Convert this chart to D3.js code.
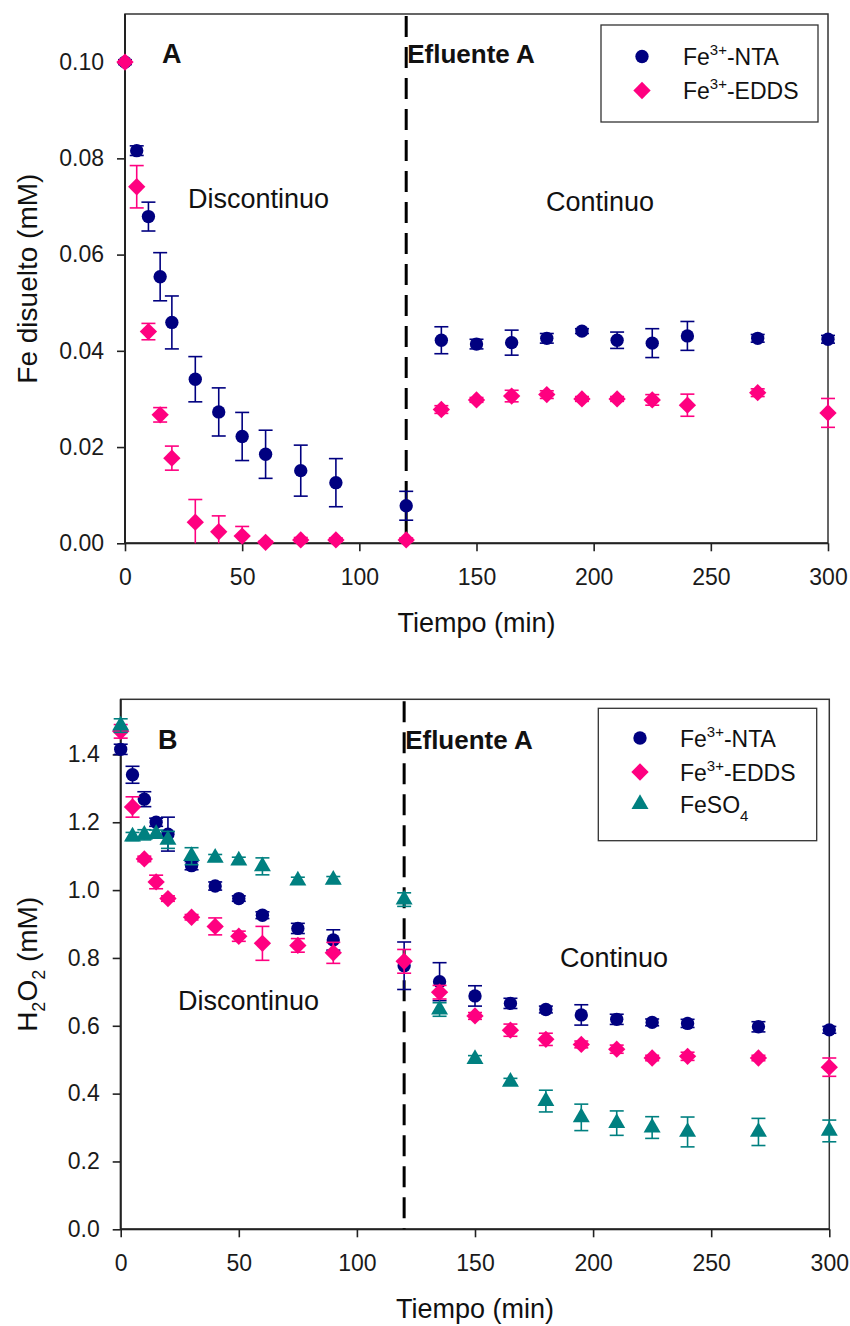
<!DOCTYPE html>
<html>
<head>
<meta charset="utf-8">
<script src="https://cdn.jsdelivr.net/npm/d3@7"></script>
<style>
  html, body { margin: 0; padding: 0; background: #fff; }
  svg { display: block; font-family: "Liberation Sans", Arial, sans-serif; }
</style>
</head>
<body>
<svg id="chart" width="850" height="1326"></svg>
<script>
// ---------- DATA ----------
const timeMin = [0,5,10,15,20,30,40,50,60,75,90,120,135,150,165,180,195,210,225,240,270,300];

// Panel A: Fe disuelto (mM)
const feNTA      = [0.100,0.0816,0.0679,0.0554,0.0459,0.0341,0.0273,0.0222,0.0185,0.0151,0.0126,0.0078,0.0422,0.0414,0.0417,0.0426,0.0441,0.0422,0.0416,0.0431,0.0426,0.0424];
const feNTAErr   = [0.0005,0.001,0.003,0.005,0.0055,0.0047,0.005,0.005,0.005,0.0053,0.005,0.003,0.0028,0.001,0.0026,0.001,0.0005,0.0017,0.003,0.003,0.0008,0.0008];
const feEDDS     = [0.100,0.0741,0.0440,0.0267,0.0177,0.0044,0.0024,0.0015,0.0002,0.0007,0.0007,0.0007,0.0278,0.0298,0.0306,0.0309,0.0300,0.0300,0.0298,0.0287,0.0313,0.0271];
const feEDDSErr  = [0.0003,0.0044,0.0017,0.0015,0.0025,0.0047,0.0033,0.002,0.0003,0.0005,0.0004,0.0004,0.0008,0.0005,0.0012,0.0008,0.0005,0.0005,0.0011,0.0023,0.0008,0.003];

// Panel B: H2O2 (mM)
const h2o2NTA     = [1.415,1.340,1.268,1.200,1.165,1.072,1.012,0.975,0.926,0.887,0.853,0.777,0.730,0.688,0.666,0.648,0.632,0.619,0.610,0.607,0.597,0.588];
const h2o2NTAErr  = [0.015,0.025,0.022,0.012,0.05,0.012,0.012,0.008,0.01,0.015,0.03,0.07,0.056,0.03,0.015,0.01,0.03,0.015,0.01,0.012,0.015,0.01];
const h2o2EDDS    = [1.468,1.245,1.092,1.024,0.975,0.920,0.893,0.864,0.843,0.837,0.815,0.790,0.699,0.629,0.587,0.560,0.545,0.531,0.505,0.510,0.505,0.478];
const h2o2EDDSErr = [0.02,0.03,0.008,0.02,0.008,0.008,0.025,0.015,0.05,0.02,0.031,0.035,0.02,0.01,0.018,0.018,0.01,0.012,0.008,0.012,0.008,0.027];
const h2o2FeSO4   = [1.485,1.158,1.163,1.165,1.148,1.100,1.095,1.087,1.070,1.028,1.030,0.972,0.648,0.502,0.435,0.378,0.330,0.313,0.300,0.287,0.287,0.290];
const h2o2FeSO4Err= [0.02,0.012,0.015,0.012,0.025,0.025,0.01,0.01,0.025,0.01,0.01,0.02,0.02,0.01,0.01,0.032,0.039,0.036,0.032,0.044,0.04,0.032];

const xTicks  = [0,50,100,150,200,250,300];
const yTicksA = [0,0.02,0.04,0.06,0.08,0.10];
const yTicksB = [0,0.2,0.4,0.6,0.8,1.0,1.2,1.4];
const changeTime = 120;

// ---------- STYLE ----------
const C_NTA = "#000080", C_EDDS = "#FF0080", C_FESO4 = "#008080";
const FONT = "'Liberation Sans', Arial, sans-serif";
const svg = d3.select("#chart");

const symCircle  = d3.symbol().type(d3.symbolCircle).size(140);
const symDiamond = d3.symbol().type(d3.symbolSquare).size(150);
const symTri     = d3.symbol().type(d3.symbolTriangle).size(125);

function drawPanel(cfg) {
  const x = d3.scaleLinear().domain([0,300]).range([cfg.left, cfg.right]);
  const y = d3.scaleLinear().domain([0, cfg.ymax]).range([cfg.bottom, cfg.top]);
  const g = svg.append("g");

  // frame
  g.append("rect").attr("x", cfg.left).attr("y", cfg.top)
    .attr("width", cfg.right - cfg.left).attr("height", cfg.bottom - cfg.top)
    .attr("fill", "none").attr("stroke", "#333").attr("stroke-width", 1.5);

  // axes
  const xAxis = d3.axisBottom(x).tickValues(xTicks).tickSize(8).tickPadding(17).tickFormat(d3.format("d"));
  const gx = g.append("g").attr("transform", `translate(0,${cfg.bottom})`).call(xAxis);
  const yAxis = d3.axisLeft(y).tickValues(cfg.yTicks).tickSize(8).tickPadding(13).tickFormat(cfg.fmt);
  const gy = g.append("g").attr("transform", `translate(${cfg.left},0)`).call(yAxis);
  [gx, gy].forEach(a => {
    a.select(".domain").attr("stroke", "#222").attr("stroke-width", 2);
    a.selectAll(".tick line").attr("stroke", "#222").attr("stroke-width", 1.6);
    a.selectAll(".tick text").attr("fill", "#1a1a1a").style("font-family", FONT).style("font-size", "23px");
  });
  gx.select(".domain").attr("d", `M${cfg.left},0H${cfg.right}`);
  gy.select(".domain").attr("d", `M0,${cfg.bottom}V${cfg.top}`);

  // dashed separator
  g.append("line").attr("x1", x(changeTime)).attr("x2", x(changeTime))
    .attr("y1", cfg.top + 2).attr("y2", cfg.bottom)
    .attr("stroke", "#000").attr("stroke-width", 3).attr("stroke-dasharray", "21,10");

  // series
  cfg.series.forEach(s => {
    const sg = g.append("g");
    const pts = timeMin.map((t, i) => ({t, v: s.values[i], e: s.err[i]}));
    pts.forEach(p => {
      const lo = Math.max(0, p.v - p.e), hi = p.v + p.e;
      const xp = x(p.t);
      sg.append("line").attr("x1", xp).attr("x2", xp).attr("y1", y(lo)).attr("y2", y(hi))
        .attr("stroke", s.color).attr("stroke-width", 1.6);
      sg.append("line").attr("x1", xp - 7).attr("x2", xp + 7).attr("y1", y(hi)).attr("y2", y(hi))
        .attr("stroke", s.color).attr("stroke-width", 1.6);
      if (p.v - p.e > 0) {
        sg.append("line").attr("x1", xp - 7).attr("x2", xp + 7).attr("y1", y(lo)).attr("y2", y(lo))
          .attr("stroke", s.color).attr("stroke-width", 1.6);
      }
    });
    sg.selectAll("path.m").data(pts).enter().append("path").attr("class", "m")
      .attr("d", s.sym)
      .attr("transform", d => `translate(${x(d.t)},${y(d.v)})${s.rot ? " rotate(45)" : ""}`)
      .attr("fill", s.color);
  });

  // annotations
  const txt = (tx, ty, str, opts = {}) => g.append("text").attr("x", tx).attr("y", ty)
    .style("font-family", FONT).style("font-size", (opts.size || 27) + "px")
    .style("font-weight", opts.bold ? "bold" : "normal").attr("fill", "#111").text(str);
  txt(cfg.letterX, cfg.boldY, cfg.letter, {bold: true, size: 27});
  txt(x(changeTime) + 1, cfg.boldY, "Efluente A", {bold: true, size: 26});
  txt(cfg.discX, cfg.discY, "Discontinuo");
  txt(cfg.contX, cfg.contY, "Continuo");

  // x title
  g.append("text").attr("x", (cfg.left + cfg.right) / 2).attr("y", cfg.xTitleY)
    .attr("text-anchor", "middle").style("font-family", FONT).style("font-size", "27px")
    .attr("fill", "#111").text("Tiempo (min)");

  // y title
  const yt = g.append("text").attr("transform", `translate(37,${(cfg.top + cfg.bottom) / 2}) rotate(-90)`)
    .attr("text-anchor", "middle").style("font-family", FONT).style("font-size", "28px").attr("fill", "#111");
  cfg.yTitle(yt);

  // legend
  const L = cfg.legend;
  g.append("rect").attr("x", L.x).attr("y", L.y).attr("width", L.w).attr("height", L.h)
    .attr("fill", "#fff").attr("stroke", "#333").attr("stroke-width", 1.3);
  L.rows.forEach((r, i) => {
    const cy = L.rowY[i];
    g.append("path").attr("d", r.sym)
      .attr("transform", `translate(${L.symX},${cy})${r.rot ? " rotate(45)" : ""}`).attr("fill", r.color);
    const t = g.append("text").attr("x", L.textX).attr("y", cy + 8.5)
      .style("font-family", FONT).style("font-size", "23px").attr("fill", "#111");
    r.label(t);
  });
}

const labNTA = t => { t.append("tspan").text("Fe"); t.append("tspan").attr("dy", -10).style("font-size", "15px").text("3+"); t.append("tspan").attr("dy", 10).text("-NTA"); };
const labEDDS = t => { t.append("tspan").text("Fe"); t.append("tspan").attr("dy", -10).style("font-size", "15px").text("3+"); t.append("tspan").attr("dy", 10).text("-EDDS"); };
const labFeSO4 = t => { t.append("tspan").text("FeSO"); t.append("tspan").attr("dy", 8).style("font-size", "15px").text("4"); };

// Panel A
drawPanel({
  left: 125, right: 828, top: 14, bottom: 543.3, ymax: 0.11,
  yTicks: yTicksA, fmt: d3.format(".2f"),
  series: [
    {values: feNTA, err: feNTAErr, color: C_NTA, sym: symCircle},
    {values: feEDDS, err: feEDDSErr, color: C_EDDS, sym: symDiamond, rot: true}
  ],
  letter: "A", letterX: 162, boldY: 63, discX: 188, discY: 208, contX: 546, contY: 211,
  xTitleY: 632,
  yTitle: t => t.text("Fe disuelto (mM)"),
  legend: {x: 601, y: 25, w: 217, h: 97, symX: 642, textX: 683, rowY: [56.5, 90.5],
    rows: [{sym: symCircle, color: C_NTA, label: labNTA}, {sym: symDiamond, color: C_EDDS, rot: true, label: labEDDS}]}
});

// Panel B
drawPanel({
  left: 120.7, right: 829.3, top: 699.3, bottom: 1229.3, ymax: 1.5625,
  yTicks: yTicksB, fmt: d3.format(".1f"),
  series: [
    {values: h2o2NTA, err: h2o2NTAErr, color: C_NTA, sym: symCircle},
    {values: h2o2EDDS, err: h2o2EDDSErr, color: C_EDDS, sym: symDiamond, rot: true},
    {values: h2o2FeSO4, err: h2o2FeSO4Err, color: C_FESO4, sym: symTri}
  ],
  letter: "B", letterX: 158, boldY: 749, discX: 178, discY: 1010, contX: 560, contY: 967,
  xTitleY: 1318,
  yTitle: t => { t.append("tspan").text("H"); t.append("tspan").attr("dy", 8).style("font-size", "18px").text("2");
    t.append("tspan").attr("dy", -8).text("O"); t.append("tspan").attr("dy", 8).style("font-size", "18px").text("2");
    t.append("tspan").attr("dy", -8).text(" (mM)"); },
  legend: {x: 598.3, y: 708.3, w: 218.4, h: 132.4, symX: 640, textX: 680, rowY: [738, 772, 804],
    rows: [{sym: symCircle, color: C_NTA, label: labNTA}, {sym: symDiamond, color: C_EDDS, rot: true, label: labEDDS},
           {sym: symTri, color: C_FESO4, label: labFeSO4}]}
});
</script>
</body>
</html>
